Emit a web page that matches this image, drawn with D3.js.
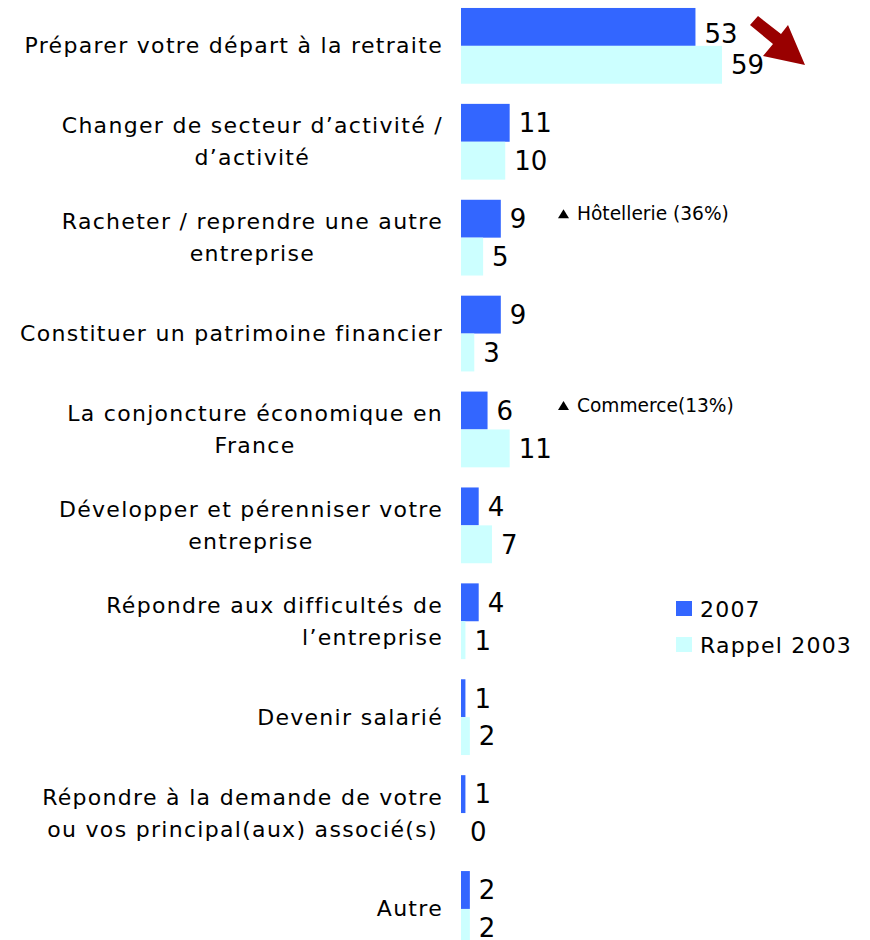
<!DOCTYPE html>
<html>
<head>
<meta charset="utf-8">
<script src="https://cdnjs.cloudflare.com/ajax/libs/d3/7.8.5/d3.min.js"></script>
<style>
  body { margin: 0; background: #fff; }
  text { font-family: "DejaVu Sans", Verdana, sans-serif; fill: #000; }
</style>
</head>
<body>
<script>
// categories (one entry per line of the label)
var categories = [
  ["Préparer votre départ à la retraite"],
  ["Changer de secteur d’activité /", "d’activité"],
  ["Racheter / reprendre une autre", "entreprise"],
  ["Constituer un patrimoine financier"],
  ["La conjoncture économique en", "France"],
  ["Développer et pérenniser votre", "entreprise"],
  ["Répondre aux difficultés de", "l’entreprise"],
  ["Devenir salarié"],
  ["Répondre à la demande de votre", "ou vos principal(aux) associé(s)"],
  ["Autre"]
];
var series = ["2007", "Rappel 2003"];
var values2007 = [53, 11, 9, 9, 6, 4, 4, 1, 1, 2];
var values2003 = [59, 10, 5, 3, 11, 7, 1, 2, 0, 2];
// side notes attached to a category (index)
var notes = [
  {cat: 2, text: "Hôtellerie (36%)"},
  {cat: 4, text: "Commerce(13%)"}
];
// labels whose lines are flush right instead of centred
var flushRight = [6];

var W = 870, H = 940;
var colors = {"2007": "#3366FF", "Rappel 2003": "#CCFFFF"};

var svg = d3.select("body").append("svg")
  .attr("width", W).attr("height", H);

var ids = categories.map(function(d, i){ return i; });

var y = d3.scaleBand()
  .domain(ids)
  .range([-2.1, 956.9])
  .paddingInner(0.21)
  .paddingOuter(0.105);

var ySub = d3.scaleBand()
  .domain(series)
  .range([0, y.bandwidth()]);

var x = d3.scaleLinear()
  .domain([0, 59])
  .range([461, 722]);

var rows = ids.map(function(i){
  return {i: i, lines: categories[i], vals: [
    {s: "2007", v: values2007[i], i: i},
    {s: "Rappel 2003", v: values2003[i], i: i}
  ]};
});

var g = svg.selectAll(".grp")
  .data(rows)
  .enter().append("g")
  .attr("class", "grp")
  .attr("transform", function(d){ return "translate(0," + y(d.i) + ")"; });

// bars
g.selectAll("rect")
  .data(function(d){ return d.vals; })
  .enter().append("rect")
  .attr("x", x(0))
  .attr("y", function(d){ return ySub(d.s); })
  .attr("width", function(d){ return x(d.v) - x(0); })
  .attr("height", ySub.bandwidth())
  .style("fill", function(d){ return colors[d.s]; });

// value labels (the first one is pushed down a bit, clear of the arrow)
g.selectAll(".val")
  .data(function(d){ return d.vals; })
  .enter().append("text")
  .attr("class", "val")
  .attr("x", function(d){ return x(d.v) + 9; })
  .attr("y", function(d){
    var off = (d.i === 0 && d.s === "2007") ? 7 : 0;
    return ySub(d.s) + ySub.bandwidth() / 2 + off;
  })
  .attr("dy", "0.36em")
  .style("font-size", "26px")
  .text(function(d){ return d.v; });

// category labels: block flush right at 443, lines centred in the block
var lineH = 32, rightX = 443;
g.append("text")
  .attr("class", "cat")
  .style("font-size", "22px")
  .style("letter-spacing", "1.3px")
  .each(function(d){
    var t = d3.select(this);
    var n = d.lines.length;
    var spans = d.lines.map(function(l, k){
      return t.append("tspan")
        .attr("y", y.bandwidth() / 2 + (k - (n - 1) / 2) * lineH)
        .attr("dy", "0.34em")
        .text(l);
    });
    var widths = spans.map(function(s){ return s.node().getComputedTextLength(); });
    var maxW = d3.max(widths);
    var right = flushRight.indexOf(d.i) >= 0;
    spans.forEach(function(s, k){
      if(right){
        s.attr("text-anchor", "end").attr("x", rightX);
      } else {
        s.attr("text-anchor", "middle").attr("x", rightX - maxW / 2);
      }
    });
  });

// notes
var ng = svg.selectAll(".note")
  .data(notes)
  .enter().append("g")
  .attr("class", "note")
  .attr("transform", function(d){
    return "translate(558," + (y(d.cat) + ySub("2007") + ySub.bandwidth() / 2 - 5) + ")";
  });
ng.append("path")
  .attr("d", "M0,4.5 L11,4.5 L5.5,-4.5 Z")
  .style("fill", "#000");
ng.append("text")
  .attr("x", 19)
  .attr("dy", "0.36em")
  .style("font-size", "18.6px")
  .text(function(d){ return d.text; });

// arrow
svg.append("path")
  .attr("d", "M758,16 L781,34 L788,25 L805,65 L763,56 L773,44 L750,25 Z")
  .style("fill", "#990000");

// legend
var lg = svg.selectAll(".leg")
  .data(series)
  .enter().append("g")
  .attr("class", "leg")
  .attr("transform", function(d, i){ return "translate(676," + (601 + i * 36) + ")"; });
lg.append("rect")
  .attr("width", 16).attr("height", 15)
  .style("fill", function(d){ return colors[d]; });
lg.append("text")
  .attr("x", 24)
  .attr("y", 8)
  .attr("dy", "0.36em")
  .style("font-size", "22px")
  .style("letter-spacing", "1.2px")
  .text(function(d){ return d; });
</script>
</body>
</html>
